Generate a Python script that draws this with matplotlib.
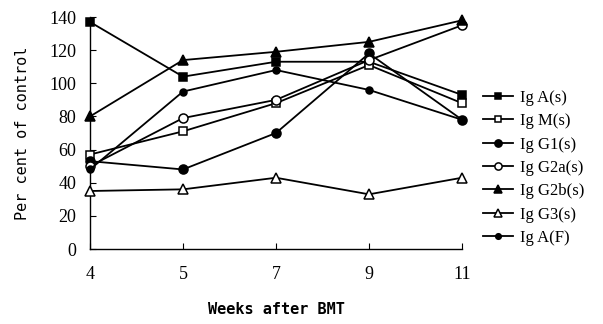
import matplotlib
matplotlib.use("Agg")
import matplotlib.pyplot as plt

weeks = ["4", "5", "7", "9", "11"]
iga_s = [137, 104, 113, 113, 93]
igm_s = [57, 71, 88, 111, 88]
igg1_s = [53, 48, 70, 118, 78]
igg2a_s = [50, 79, 90, 114, 135]
igg2b_s = [80, 114, 119, 125, 138]
igg3_s = [35, 36, 43, 33, 43]
iga_f = [48, 95, 108, 96, 78]
labels = ["Ig A(s)", "Ig M(s)", "Ig G1(s)", "Ig G2a(s)", "Ig G2b(s)", "Ig G3(s)", "Ig A(F)"]

series = [iga_s, igm_s, igg1_s, igg2a_s, igg2b_s, igg3_s, iga_f]
styles = [
    dict(marker="s", mfc="black", ms=6),
    dict(marker="s", mfc="white", ms=6),
    dict(marker="o", mfc="black", ms=6.5),
    dict(marker="o", mfc="white", ms=6.5),
    dict(marker="^", mfc="black", ms=7),
    dict(marker="^", mfc="white", ms=6.5),
    dict(marker="o", mfc="black", ms=5),
]

fig = plt.figure(figsize=(6.03, 3.24), dpi=100)
ax = fig.add_axes([90/603, 1-249/324, (462-90)/603, (249-17)/324])
x = list(range(len(weeks)))
handles = []
for vals, st, lab in zip(series, styles, labels):
    h, = ax.plot(x, vals, color="black", lw=1.3, marker=st["marker"], mfc=st["mfc"],
                 mec="black", mew=1.1, ms=st["ms"], label=lab, clip_on=False, zorder=3)
    handles.append(h)

ax.set_xlim(0, 4)
ax.set_ylim(0, 140)
ax.set_xticks(x)
ax.set_xticklabels(weeks)
ax.set_yticks(range(0, 141, 20))
for s in ["top", "right"]:
    ax.spines[s].set_visible(False)
for s in ["left", "bottom"]:
    ax.spines[s].set_linewidth(1.0)
ax.tick_params(direction="in", length=4, width=0.8, pad=12)
ax.tick_params(axis="y", pad=10)
for t in ax.get_xticklabels() + ax.get_yticklabels():
    t.set_fontfamily("Liberation Serif")
    t.set_fontsize(13)
    t.set_fontstretch("condensed")

ax.set_xlabel("Weeks after BMT", fontfamily="DejaVu Sans Mono", fontsize=11,
              fontweight="bold", labelpad=14)
ax.set_ylabel("Per cent of control", fontfamily="DejaVu Sans Mono", fontsize=11,
              labelpad=14)

leg = fig.legend(handles=handles, loc="upper left", bbox_to_anchor=(468/603, 1-75/324),
                 frameon=False, handlelength=1.8, labelspacing=0.44, markerscale=0.8,
                 prop=dict(family="Liberation Serif", size=12), handletextpad=0.4)

fig.savefig("out.png", dpi=100)
